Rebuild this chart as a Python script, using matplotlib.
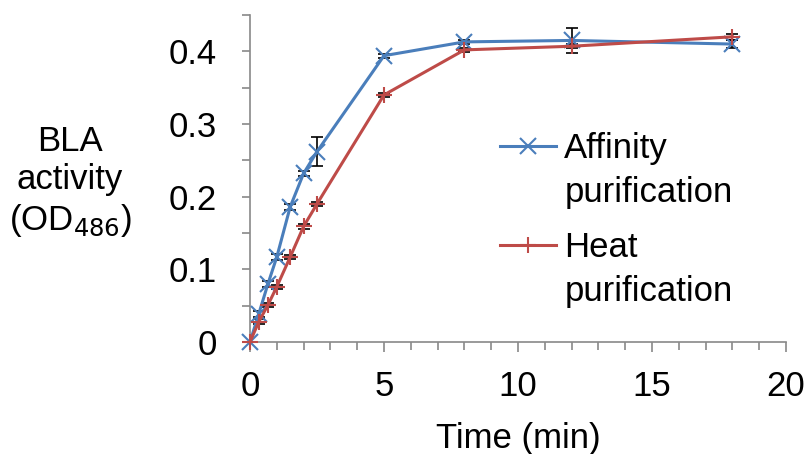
import numpy as np
import matplotlib.pyplot as plt
from matplotlib.lines import Line2D
from matplotlib.ticker import MultipleLocator

plt.rcParams['font.family'] = ['Liberation Sans', 'DejaVu Sans']

# data
time_min = [0, 0.33, 0.67, 1, 1.5, 2, 2.5, 5, 8, 12, 18]
affinity = [0, 0.039, 0.080, 0.117, 0.186, 0.232, 0.262, 0.394, 0.413, 0.415, 0.410]
affinity_err = [0, 0.004, 0.004, 0.004, 0.004, 0.004, 0.020, 0.003, 0.003, 0.017, 0.005]
heat = [0, 0.028, 0.051, 0.076, 0.117, 0.159, 0.190, 0.340, 0.402, 0.407, 0.420]
heat_err = [0, 0.003, 0.003, 0.003, 0.003, 0.003, 0.003, 0.003, 0.003, 0.003, 0.004]

blue = '#4A7EBB'
red = '#BE4B48'
grey = '#898989'
fs = 25

fig = plt.figure(figsize=(8.08, 4.54), dpi=100)
ax = fig.add_axes([250 / 808, 1 - 342 / 454, 536 / 808, 327 / 454])

# error bars behind the lines
ax.errorbar(time_min, affinity, yerr=affinity_err, fmt='none', ecolor='black',
            elinewidth=1.2, capsize=4, capthick=1.2, zorder=2)
ax.errorbar(time_min, heat, yerr=heat_err, fmt='none', ecolor='black',
            elinewidth=1.2, capsize=4, capthick=1.2, zorder=2)

l1, = ax.plot(time_min, affinity, color=blue, lw=2.2, marker='x', ms=11, mew=1.5,
              zorder=3, clip_on=False)
l2, = ax.plot(time_min, heat, color=red, lw=2.2, marker='+', ms=11, mew=1.5,
              zorder=3, clip_on=False)

ax.set_xlim(0, 20)
ax.set_ylim(0, 0.45)
ax.xaxis.set_major_locator(MultipleLocator(5))
ax.xaxis.set_minor_locator(MultipleLocator(1))
ax.set_yticks([0, 0.1, 0.2, 0.3, 0.4])
ax.set_yticklabels(['0', '0.1', '0.2', '0.3', '0.4'])
ax.yaxis.set_minor_locator(MultipleLocator(0.05))

for s in ['top', 'right']:
    ax.spines[s].set_visible(False)
for s in ['left', 'bottom']:
    ax.spines[s].set_color(grey)
    ax.spines[s].set_linewidth(1.2)

ax.tick_params(axis='x', which='major', length=7, width=1.2, color=grey,
               labelsize=fs, pad=13)
ax.tick_params(axis='x', which='minor', length=5.5, width=1.2, color=grey)
ax.tick_params(axis='y', which='major', length=6, width=1.2, color=grey,
               labelsize=fs, pad=18)
ax.tick_params(axis='y', which='minor', length=6, width=1.2, color=grey)

ax.set_xlabel('Time (min)', fontsize=fs, labelpad=14)
fig.text(70 / 808, 1 - 182 / 454, 'BLA\nactivity\n(OD$_{486}$)', fontsize=fs,
         ha='center', va='center', linespacing=1.2)

# legend: handle sits on the first line of each two-line label
blank = Line2D([], [], color='none')
leg_kw = dict(loc='upper left', bbox_transform=fig.transFigure, frameon=False,
              fontsize=fs, handlelength=1.6, handletextpad=0.25,
              labelspacing=0.32, borderpad=0, borderaxespad=0)
leg1 = ax.legend([l1, blank], ['Affinity', 'purification'],
                 bbox_to_anchor=(500 / 808, 1 - 132 / 454), **leg_kw)
ax.add_artist(leg1)
ax.legend([l2, blank], ['Heat', 'purification'],
          bbox_to_anchor=(500 / 808, 1 - 231 / 454), **leg_kw)

fig.savefig('out.png', dpi=100)
